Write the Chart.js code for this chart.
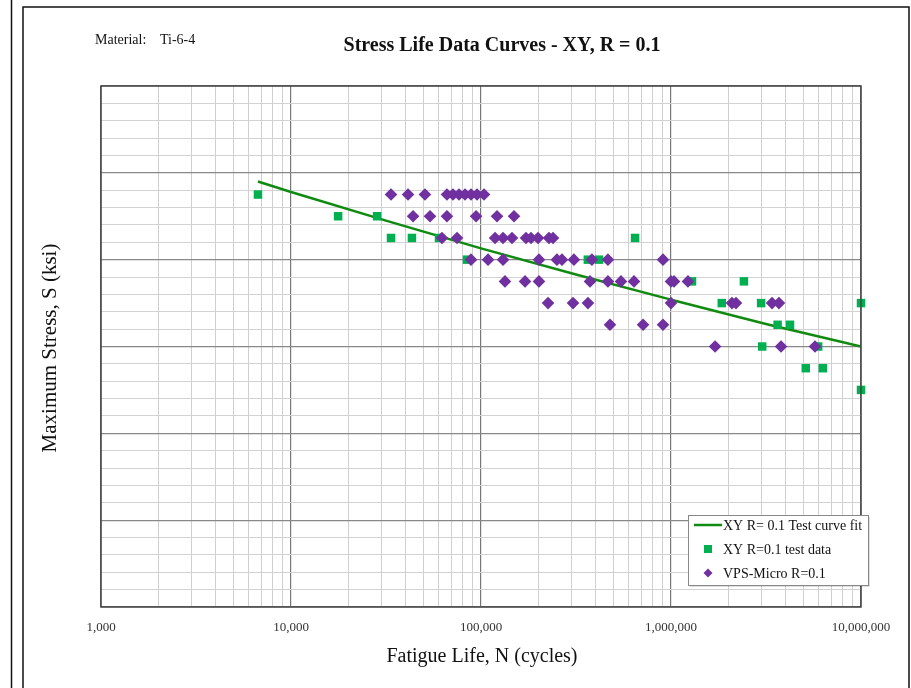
<!DOCTYPE html>
<html>
<head>
<meta charset="utf-8">
<script src="https://cdn.jsdelivr.net/npm/chart.js@4.4.1/dist/chart.umd.min.js"></script>
<style>
html,body{margin:0;padding:0;background:#fff;}
#wrap{width:911px;height:688px;}
</style>
</head>
<body>
<div id="wrap"><canvas id="c" width="911" height="688"></canvas></div>
<script>
// ---- Data ----
const xTickValues = [1000, 10000, 100000, 1000000, 10000000];
const xTickLabels = ['1,000', '10,000', '100,000', '1,000,000', '10,000,000'];

// Test curve fit
const fitN = [6700, 10000, 31600, 100000, 316000, 1000000, 3160000, 10000000];
const fitS = [49.0, 47.8, 44.5, 41.3, 38.3, 35.4, 32.6, 30.0];

// XY R=0.1 test data
const xyN = [6700, 17700, 28400, 33600, 43300, 60100, 84400, 365000, 418000, 647000,
             1290000, 2420000, 1850000, 2980000, 3640000, 4230000, 3020000, 5950000,
             5120000, 6290000, 10000000, 10000000];
const xyS = [47.5, 45, 45, 42.5, 42.5, 42.5, 40, 40, 40, 42.5,
             37.5, 37.5, 35, 35, 32.5, 32.5, 30, 30,
             27.5, 27.5, 35, 25];

// VPS-Micro R=0.1
const vpsN = [
  33600, 41300, 50700, 66200, 71200, 76600, 82400, 88600, 95300, 103700,
  43900, 53900, 66200, 94200, 121400, 149200,
  62300, 74800, 118600, 130600, 145600, 172500, 183300, 199500, 227900, 239300,
  88600, 108900, 130600, 201900, 251000, 266800, 308400, 383500, 465600, 907700,
  133700, 170500, 201900, 374700, 465600, 545400, 638600, 1000000, 1037000, 1228000,
  225300, 305000, 365500, 1000000, 2093000, 2198000, 3402000, 3700000,
  477300, 712700, 907700,
  1706000, 3794000, 5727000
];
const vpsS = [
  47.5, 47.5, 47.5, 47.5, 47.5, 47.5, 47.5, 47.5, 47.5, 47.5,
  45, 45, 45, 45, 45, 45,
  42.5, 42.5, 42.5, 42.5, 42.5, 42.5, 42.5, 42.5, 42.5, 42.5,
  40, 40, 40, 40, 40, 40, 40, 40, 40, 40,
  37.5, 37.5, 37.5, 37.5, 37.5, 37.5, 37.5, 37.5, 37.5, 37.5,
  35, 35, 35, 35, 35, 35, 35, 35,
  32.5, 32.5, 32.5,
  30, 30, 30
];

const seriesLabels = ['XY R= 0.1 Test curve fit', 'XY R=0.1 test data', 'VPS-Micro R=0.1'];
const titleText = 'Stress Life Data Curves - XY, R = 0.1';
const xTitle = 'Fatigue Life, N (cycles)';
const yTitle = 'Maximum Stress, S (ksi)';

const toPts = (xs, ys) => xs.map((x, i) => ({x: x, y: ys[i]}));
const SERIF = "'Liberation Serif', 'Times New Roman', serif";
const isMajorX = v => Math.abs(Math.log10(v) - Math.round(Math.log10(v))) < 1e-9;

const decor = {
  id: 'decor',
  beforeDraw(chart) {
    const ctx = chart.ctx;
    ctx.save();
    ctx.fillStyle = '#fff';
    ctx.fillRect(0, 0, chart.width, chart.height);
    ctx.strokeStyle = '#111';
    ctx.lineWidth = 1.5;
    ctx.beginPath();
    ctx.moveTo(11.5, 0); ctx.lineTo(11.5, chart.height);
    ctx.moveTo(23, chart.height); ctx.lineTo(23, 7); ctx.lineTo(909, 7); ctx.lineTo(909, chart.height);
    ctx.stroke();
    ctx.restore();
  },
  afterDraw(chart) {
    const ctx = chart.ctx;
    const a = chart.chartArea;
    ctx.save();
    // plot border
    ctx.strokeStyle = '#444';
    ctx.lineWidth = 1.5;
    ctx.strokeRect(a.left, a.top, a.right - a.left, a.bottom - a.top);
    // texts
    ctx.fillStyle = '#111';
    ctx.textBaseline = 'middle';
    ctx.textAlign = 'left';
    ctx.font = '14px ' + SERIF;
    ctx.fillText('Material:', 95, 40);
    ctx.fillText('Ti-6-4', 160, 40);
    ctx.font = 'bold 20px ' + SERIF;
    ctx.textAlign = 'center';
    ctx.fillText(titleText, 502, 46);
    ctx.font = '20px ' + SERIF;
    ctx.fillText(xTitle, 482, 657);
    ctx.save();
    ctx.translate(50, 348);
    ctx.rotate(-Math.PI / 2);
    ctx.font = '21px ' + SERIF;
    ctx.fillText(yTitle, 0, 0);
    ctx.restore();
    // legend
    const lx = 688, ly = 515, lw = 180, lh = 70;
    ctx.fillStyle = 'rgba(0,0,0,0.12)';
    ctx.fillRect(lx + 2, ly + 2, lw, lh);
    ctx.fillStyle = '#fff';
    ctx.fillRect(lx, ly, lw, lh);
    ctx.strokeStyle = '#888';
    ctx.lineWidth = 1;
    ctx.strokeRect(lx + 0.5, ly + 0.5, lw, lh);
    const ds = chart.data.datasets;
    const rows = [525, 549, 573];
    ctx.font = '14px ' + SERIF;
    ctx.textAlign = 'left';
    ctx.fillStyle = '#111';
    // line sample
    ctx.strokeStyle = ds[0].borderColor;
    ctx.lineWidth = 2.5;
    ctx.beginPath(); ctx.moveTo(694, rows[0]); ctx.lineTo(722, rows[0]); ctx.stroke();
    // square sample
    ctx.fillStyle = ds[1].backgroundColor;
    ctx.fillRect(708 - 4, rows[1] - 4, 8, 8);
    // diamond sample
    ctx.fillStyle = ds[2].backgroundColor;
    ctx.beginPath();
    ctx.moveTo(708, rows[2] - 4.5); ctx.lineTo(712.5, rows[2]); ctx.lineTo(708, rows[2] + 4.5); ctx.lineTo(703.5, rows[2]);
    ctx.closePath(); ctx.fill();
    ctx.fillStyle = '#111';
    for (let i = 0; i < 3; i++) ctx.fillText(ds[i].label, 723, rows[i] + 1);
    ctx.restore();
  }
};

new Chart(document.getElementById('c'), {
  type: 'scatter',
  data: {
    datasets: [
      {
        label: seriesLabels[0],
        data: toPts(fitN, fitS),
        showLine: true,
        borderColor: '#108a10',
        backgroundColor: '#108a10',
        borderWidth: 2.5,
        pointRadius: 0,
        cubicInterpolationMode: 'monotone',
        order: 2
      },
      {
        label: seriesLabels[1],
        data: toPts(xyN, xyS),
        showLine: false,
        pointStyle: 'rect',
        pointRadius: 6,
        backgroundColor: '#00b050',
        borderColor: '#00b050',
        borderWidth: 0,
        clip: false,
        order: 1
      },
      {
        label: seriesLabels[2],
        data: toPts(vpsN, vpsS),
        showLine: false,
        pointStyle: 'rectRot',
        pointRadius: 6.3,
        backgroundColor: '#7030a0',
        borderColor: '#7030a0',
        borderWidth: 0,
        clip: false,
        order: 0
      }
    ]
  },
  options: {
    responsive: false,
    animation: false,
    events: [],
    layout: {padding: {left: 101, right: 50, top: 86, bottom: 41}},
    plugins: {legend: {display: false}, tooltip: {enabled: false}, title: {display: false}},
    scales: {
      x: {
        type: 'logarithmic',
        min: 1000,
        max: 10000000,
        afterBuildTicks(scale) {
          const t = [];
          for (let e = 3; e < 7; e++) for (let m = 1; m <= 9; m++) t.push({value: m * Math.pow(10, e)});
          t.push({value: 1e7});
          scale.ticks = t;
        },
        afterFit(scale) { scale.height = 40; },
        ticks: {
          autoSkip: false,
          maxRotation: 0,
          padding: 13,
          color: '#333',
          font: {family: SERIF, size: 13},
          callback(v) {
            const i = xTickValues.findIndex(t => Math.abs(t - v) < 1e-6 * t);
            return i >= 0 ? xTickLabels[i] : '';
          }
        },
        grid: {
          drawTicks: false,
          color: c => (c.tick && isMajorX(c.tick.value)) ? '#777' : '#cfcfcf',
          lineWidth: c => (c.tick && isMajorX(c.tick.value)) ? 1.2 : 1
        },
        border: {display: false}
      },
      y: {
        type: 'linear',
        min: 0,
        max: 60,
        afterFit(scale) { scale.width = 0; },
        ticks: {display: false, stepSize: 2},
        grid: {
          drawTicks: false,
          color: c => (c.tick && Math.round(c.tick.value) % 10 === 0) ? '#888' : '#d2d2d2',
          lineWidth: c => (c.tick && Math.round(c.tick.value) % 10 === 0) ? 1.2 : 1
        },
        border: {display: false}
      }
    }
  },
  plugins: [decor]
});
</script>
</body>
</html>
